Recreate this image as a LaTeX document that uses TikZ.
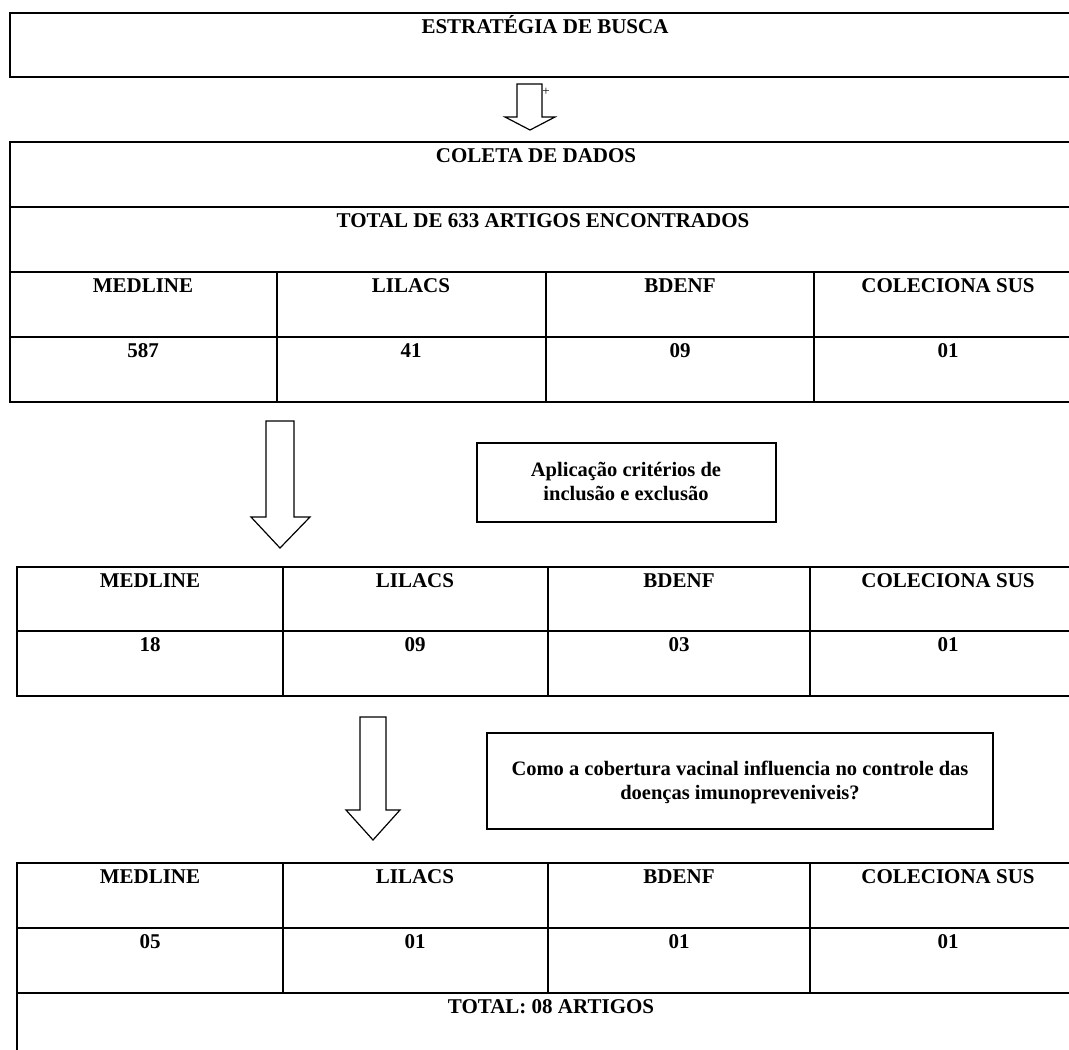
\documentclass[tikz,border=0pt]{standalone}
\usepackage{fontspec}
\setmainfont{Liberation Serif}
\begin{document}
\begin{tikzpicture}[x=1pt,y=-1pt,
  box/.style={line width=2pt},
  thinbox/.style={line width=1.4pt},
  lbl/.style={font=\fontsize{21}{24}\selectfont\bfseries, anchor=base, inner sep=0pt},
  boxtxt/.style={font=\fontsize{20.5}{23.5}\selectfont\bfseries, align=center, anchor=base, inner sep=0pt},
  blockarrow/.style={line width=1.2pt, fill=white, line join=miter}]
\useasboundingbox (0,0) rectangle (1069,1050);
\clip (0,0) rectangle (1069,1050);

% top box
\draw[box] (10,13) rectangle (1090,77);
\node[lbl] (t0) at (545,33) {ESTRATÉGIA DE BUSCA};

% arrow 1
\draw[blockarrow] (517,84) -- (542,84) -- (542,117) -- (555,117) -- (530,130) -- (505,117) -- (517,117) -- cycle;
\node[font=\fontsize{13}{13}\selectfont, inner sep=0pt] (plus) at (546,92) {+};

% table 1
\draw[box] (10,142) rectangle (1090,402);
\draw[box] (10,207) -- (1090,207);
\draw[box] (10,272) -- (1090,272);
\draw[box] (10,337) -- (1090,337);
\draw[box] (277,272) -- (277,402);
\draw[box] (546,272) -- (546,402);
\draw[box] (814,272) -- (814,402);
\node[lbl] (c1) at (536,162) {COLETA DE DADOS};
\node[lbl] (c2) at (543,227) {TOTAL DE 633 ARTIGOS ENCONTRADOS};
\node[lbl] (a1) at (143,292) {MEDLINE};
\node[lbl] (a2) at (411,292) {LILACS};
\node[lbl] (a3) at (680,292) {BDENF};
\node[lbl] (a4) at (948,292) {COLECIONA SUS};
\node[lbl] (b1) at (143,357) {587};
\node[lbl] (b2) at (411,357) {41};
\node[lbl] (b3) at (680,357) {09};
\node[lbl] (b4) at (948,357) {01};

% arrow 2
\draw[blockarrow] (266,421) -- (294,421) -- (294,517) -- (310,517) -- (280,548) -- (251,517) -- (266,517) -- cycle;

% box aplicacao
\draw[thinbox] (477,443) rectangle (776,522);
\node[boxtxt] (ap) at (626,500) {Aplicação critérios de\\inclusão e exclusão};

% table 2
\draw[box] (17,567) rectangle (1090,696);
\draw[box] (17,631) -- (1090,631);
\draw[box] (283,567) -- (283,696);
\draw[box] (548,567) -- (548,696);
\draw[box] (810,567) -- (810,696);
\node[lbl] (d1) at (150,587) {MEDLINE};
\node[lbl] (d2) at (415,587) {LILACS};
\node[lbl] (d3) at (679,587) {BDENF};
\node[lbl] (d4) at (948,587) {COLECIONA SUS};
\node[lbl] (e1) at (150,651) {18};
\node[lbl] (e2) at (415,651) {09};
\node[lbl] (e3) at (679,651) {03};
\node[lbl] (e4) at (948,651) {01};

% arrow 3
\draw[blockarrow] (360,717) -- (386,717) -- (386,810) -- (400,810) -- (373,840) -- (346,810) -- (360,810) -- cycle;

% box como
\draw[thinbox] (487,733) rectangle (993,829);
\node[boxtxt] (co) at (740,799) {Como a cobertura vacinal influencia no controle das\\doenças imunopreveniveis?};

% table 3
\draw[box] (17,863) rectangle (1090,1070);
\draw[box] (17,928) -- (1090,928);
\draw[box] (17,993) -- (1090,993);
\draw[box] (283,863) -- (283,993);
\draw[box] (548,863) -- (548,993);
\draw[box] (810,863) -- (810,993);
\node[lbl] (f1) at (150,883) {MEDLINE};
\node[lbl] (f2) at (415,883) {LILACS};
\node[lbl] (f3) at (679,883) {BDENF};
\node[lbl] (f4) at (948,883) {COLECIONA SUS};
\node[lbl] (g1) at (150,948) {05};
\node[lbl] (g2) at (415,948) {01};
\node[lbl] (g3) at (679,948) {01};
\node[lbl] (g4) at (948,948) {01};
\node[lbl] (tot) at (551,1013) {TOTAL: 08 ARTIGOS};
\end{tikzpicture}
\end{document}
